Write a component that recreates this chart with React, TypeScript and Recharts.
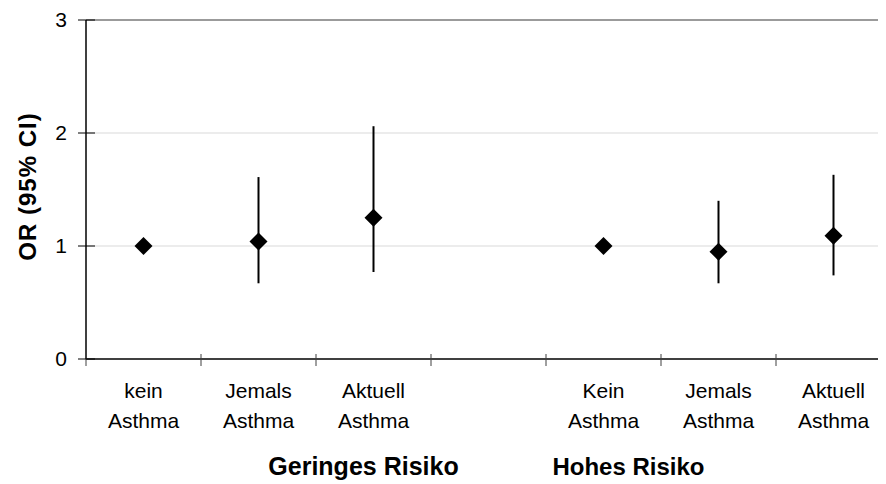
import React from 'react';
import { ComposedChart, Scatter, ErrorBar, XAxis, YAxis, CartesianGrid, ReferenceLine } from 'recharts';

// slots on the x axis (the 4th one is an empty gap between the two groups)
const slotKeys = ['gering-kein', 'gering-jemals', 'gering-aktuell', 'gap', 'hoch-kein', 'hoch-jemals', 'hoch-aktuell'];
const slotLines = [
  ['kein', 'Asthma'],
  ['Jemals', 'Asthma'],
  ['Aktuell', 'Asthma'],
  [],
  ['Kein', 'Asthma'],
  ['Jemals', 'Asthma'],
  ['Aktuell', 'Asthma'],
];

// odds ratio and 95% CI
const orValues = [1.0, 1.04, 1.25, null, 1.0, 0.95, 1.09];
const ciLow = [null, 0.67, 0.77, null, null, 0.67, 0.74];
const ciHigh = [null, 1.61, 2.06, null, null, 1.40, 1.63];

const yTicks = [0, 1, 2, 3];
const groupTitles = ['Geringes Risiko', 'Hohes Risiko'];

const data = slotKeys.map((key, i) => {
  const or = orValues[i];
  const lo = ciLow[i];
  const hi = ciHigh[i];
  return {
    key,
    or,
    err: or != null && lo != null && hi != null ? [or - lo, hi - or] : null,
  };
});

const FONT = '"Liberation Sans", Arial, sans-serif';

const Diamond = (props: any) => {
  const { cx, cy, payload } = props;
  if (payload == null || payload.or == null || cx == null || cy == null) return null;
  const r = 9;
  return <polygon points={`${cx},${cy - r} ${cx + r},${cy} ${cx},${cy + r} ${cx - r},${cy}`} fill="#000" />;
};

// label of a slot plus the small tick marks on the slot boundaries (crossing the axis)
const CategoryTick = (props: any) => {
  const { x, y, index, payload } = props;
  const half = payload && payload.offset ? payload.offset : 0;
  const lines = slotLines[index] || [];
  const last = index === slotKeys.length - 1;
  return (
    <g>
      <line x1={x - half} x2={x - half} y1={y - 5} y2={y + 7} stroke="#404040" strokeWidth={1} />
      {last && <line x1={x + half} x2={x + half} y1={y - 5} y2={y + 7} stroke="#404040" strokeWidth={1} />}
      {lines.map((t, i) => (
        <text key={i} x={x} y={y + 39 + i * 30} textAnchor="middle" fontFamily={FONT} fontSize={21} fill="#000">
          {t}
        </text>
      ))}
    </g>
  );
};

const YTick = (props: any) => {
  const { x, y, payload } = props;
  return (
    <g>
      <line x1={x - 8} x2={x + 9} y1={y} y2={y} stroke="#000" strokeWidth={1} />
      <text x={x - 19} y={y + 7} textAnchor="end" fontFamily={FONT} fontSize={21} fill="#000">
        {payload.value}
      </text>
    </g>
  );
};

const YTitle = (props: any) => {
  const { viewBox } = props;
  const cy = viewBox.y + viewBox.height / 2 - 3;
  const x = 36;
  return (
    <text x={x} y={cy} transform={`rotate(-90, ${x}, ${cy})`} textAnchor="middle" fontFamily={FONT} fontSize={24} fontWeight="bold" letterSpacing={1} fill="#000">
      OR (95% CI)
    </text>
  );
};

const GroupTitle = (props: any) => {
  const { viewBox } = props;
  const cx = viewBox.x + viewBox.width / 2;
  const y = 475;
  return (
    <g>
      <text x={cx - 125} y={y} textAnchor="middle" fontFamily={FONT} fontSize={25} fontWeight="bold" fill="#000">
        {groupTitles[0]}
      </text>
      <text x={cx + 140} y={y} textAnchor="middle" fontFamily={FONT} fontSize={24} fontWeight="bold" fill="#000">
        {groupTitles[1]}
      </text>
    </g>
  );
};

export default function App() {
  return (
    <div style={{ margin: '-8px 0 0 -8px', width: 886, height: 484, overflow: 'hidden', background: '#fff' }}>
      <ComposedChart width={900} height={484} data={data} margin={{ top: 20, right: 9, bottom: 0, left: 0 }}>
        <CartesianGrid vertical={false} stroke="#d9d9d9" />
        <ReferenceLine y={3} stroke="#808080" strokeWidth={1.5} />
        <XAxis
          dataKey="key"
          type="category"
          scale="band"
          interval={0}
          height={125}
          tickSize={0}
          tickMargin={0}
          tickLine={false}
          axisLine={{ stroke: '#404040', strokeWidth: 2 }}
          tick={<CategoryTick />}
          label={<GroupTitle />}
        />
        <YAxis
          type="number"
          domain={[0, 3]}
          ticks={yTicks}
          width={86}
          tickSize={0}
          tickMargin={0}
          tickLine={false}
          tick={<YTick />}
          axisLine={{ stroke: '#000', strokeWidth: 1.5 }}
          label={<YTitle />}
        />
        <Scatter dataKey="or" shape={<Diamond />} isAnimationActive={false}>
          <ErrorBar dataKey="err" direction="y" width={0} stroke="#000" strokeWidth={2} isAnimationActive={false} />
        </Scatter>
      </ComposedChart>
    </div>
  );
}
